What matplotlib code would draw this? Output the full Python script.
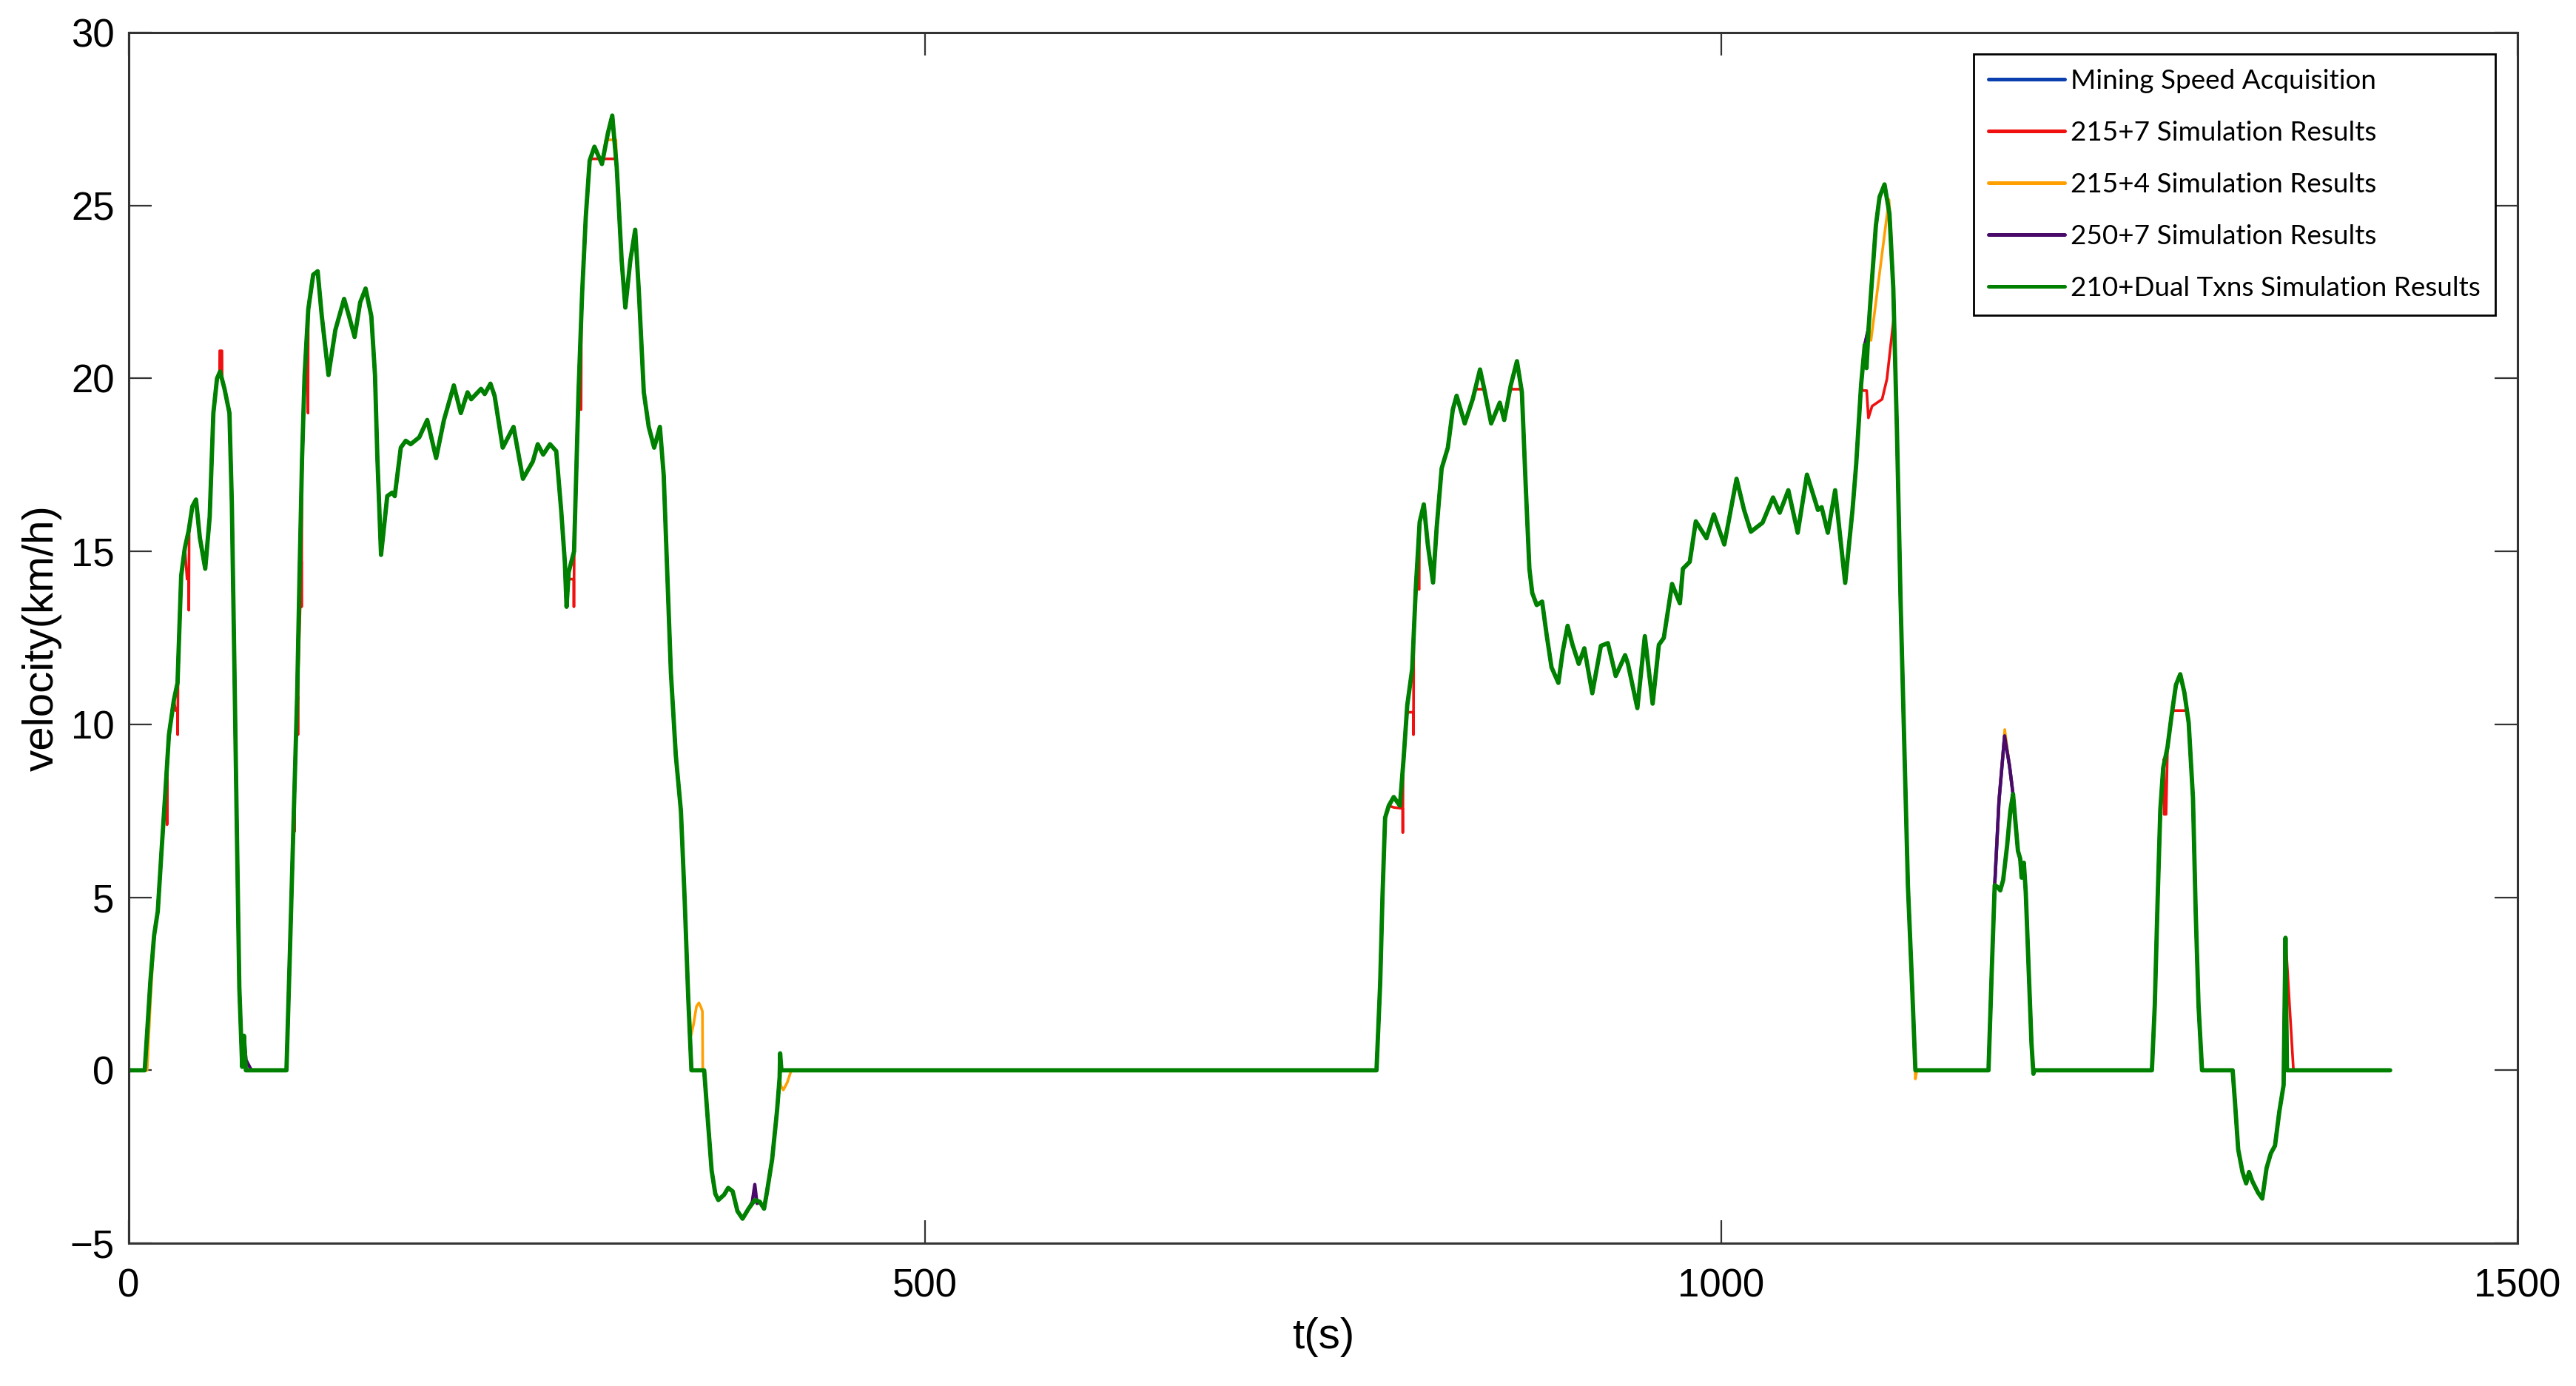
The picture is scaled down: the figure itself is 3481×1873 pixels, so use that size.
import numpy as np
import matplotlib
matplotlib.use('Agg')
import matplotlib.pyplot as plt

t_meas = [
    0, 10, 13.6, 15.9, 18.2, 20.5, 22.9, 25.2, 28.3, 30.6, 32.9, 35.2, 37.6, 39.9, 42.2, 44.6,
    48.0, 50.8, 53.1, 55.4, 57.3, 60.1, 63.2, 64.7, 66.3, 67.8, 69.4, 71.2, 72.3, 73.5,
    99, 101.1, 103.4, 105.7, 107.3, 108.8, 110.4, 112.7, 115.8, 118.6, 121.2, 125.4, 129.7,
    135.2, 138.3, 141.8, 145.3, 148.7, 152.3, 154.6, 156.1, 158.4, 160.0, 162.3, 165.4, 167.0,
    170.8, 173.9, 177.0, 182.4, 187.4, 193.0, 197.9, 204.1, 208.5, 212.7, 215.0, 221.2, 223.5,
    227.1, 229.7, 234.8, 241.6, 247.5, 253.7, 256.8, 260.2, 264.5, 268.4, 271.5, 273.8, 274.9,
    276.2, 279.6, 282.4, 284.7, 287.0, 289.4, 292.4, 297.1, 300.9, 303.6, 306.4, 309.5, 311.8,
    314.9, 318.0, 320.3, 323.4, 326.5, 329.9, 333.5, 335.9, 338.1, 340.4, 343.5, 346.7, 349.0,
    351.3, 353.3, 361.3, 363.7, 366.0, 368.3, 370.2, 373.8, 376.4, 379.2, 382.2, 385.4, 389.2,
    393.1, 396.2, 398.9, 400.8, 404.0, 407.1, 408.7, 409.0, 409.8,
    783.5, 785.8, 787.3, 788.9, 791.2, 794.3, 798.2, 800.5, 802.8, 805.9, 808.2, 810.6, 813.2,
    815.7, 819.0, 821.3, 824.4, 828.3, 831.4, 833.8, 838.9, 843.9, 848.5, 851.6, 855.5, 860.9,
    863.7, 867.8, 871.7, 874.8, 877.1, 879.5, 881.3, 884.1, 887.5, 890.3, 893.4, 897.7, 900.4,
    903.5, 906.6, 910.5, 914.0, 919.0, 924.4, 928.8, 933.7, 939.6, 941.4, 947.3, 952.0, 956.9,
    960.8, 963.9, 969.1, 974.0, 975.9, 980.2, 984.0, 990.7, 995.3, 1001.9, 1009.6, 1014.3,
    1018.6, 1025.9, 1032.5, 1036.7, 1042.1, 1048.0, 1053.8, 1060.7, 1063.0, 1066.9, 1071.5,
    1077.8, 1082.4, 1084.7, 1087.8, 1090.1, 1092.5, 1094.0, 1097.1, 1099.4, 1102.5, 1105.6,
    1108.0, 1110.3, 1112.6, 1114.9, 1117.2, 1119.6, 1121.9,
    1167.8, 1169.9, 1171.7, 1174.4, 1177.9, 1181.0, 1183.2, 1186.3, 1187.7, 1188.6, 1190.0,
    1191.2, 1193.0, 1194.8, 1196.0, 1196.6,
    1270.4, 1272.2, 1274.0, 1275.7, 1277.5, 1280.2, 1282.8, 1285.5, 1288.2, 1290.8, 1293.5,
    1296.2, 1297.9, 1299.7, 1301.9,
    1321.1, 1322.5, 1324.6, 1327.3, 1329.6, 1331.4, 1333.5, 1337.1, 1339.7, 1342.4, 1345.1,
    1347.7, 1350.4, 1353.1, 1354.3, 1355.2, 1420,
]
v_meas = [
    0, 0, 2.6, 3.9, 4.6, 6.3, 8.0, 9.7, 10.7, 11.2, 14.3, 15.1, 15.6, 16.3, 16.5, 15.4,
    14.5, 16.0, 19.0, 20.0, 20.2, 19.7, 19.0, 16.4, 11.7, 7.1, 2.4, 0.1, 1.0, 0,
    0, 3.3, 7.1, 10.8, 14.5, 17.7, 20.1, 22.0, 23.0, 23.1, 21.8, 20.1, 21.4,
    22.3, 21.8, 21.2, 22.2, 22.6, 21.8, 20.1, 17.7, 14.9, 15.6, 16.6, 16.7, 16.6,
    18.0, 18.2, 18.1, 18.3, 18.8, 17.7, 18.8, 19.8, 19.0, 19.6, 19.4, 19.7, 19.55,
    19.85, 19.5, 18.0, 18.6, 17.1, 17.6, 18.1, 17.8, 18.1, 17.9, 16.2, 14.7, 13.4,
    14.4, 15.0, 19.6, 22.5, 24.7, 26.3, 26.7, 26.2, 27.1, 27.6, 26.1, 23.4, 22.05,
    23.4, 24.3, 22.5, 19.6, 18.6, 18.0, 18.6, 17.2, 14.4, 11.5, 9.1, 7.5, 5.0,
    2.1, 0, 0, -1.5, -2.9, -3.57, -3.75, -3.6, -3.4, -3.5, -4.07, -4.29, -4.0,
    -3.75, -3.8, -4.0, -3.5, -2.57, -1.15, -0.2, 0.49, 0,
    0, 2.5, 5.1, 7.3, 7.65, 7.9, 7.65, 9.0, 10.55, 11.6, 13.96, 15.85, 16.36,
    15.2, 14.1, 15.7, 17.4, 18.0, 19.1, 19.5, 18.7, 19.4, 20.26, 19.6, 18.7, 19.3,
    18.8, 19.8, 20.5, 19.6, 17.0, 14.5, 13.8, 13.45, 13.55, 12.6, 11.65, 11.2, 12.1,
    12.85, 12.3, 11.75, 12.2, 10.9, 12.27, 12.35, 11.4, 12.0, 11.75, 10.47, 12.55, 10.6,
    12.3, 12.5, 14.06, 13.5, 14.5, 14.7, 15.87, 15.38, 16.07, 15.2, 17.1, 16.2,
    15.57, 15.83, 16.56, 16.12, 16.77, 15.54, 17.22, 16.2, 16.28, 15.54, 16.77,
    14.09, 16.2, 17.51, 19.82, 20.97, 21.46, 22.45, 24.43, 25.25, 25.61, 24.76,
    22.62, 18.5, 13.56, 9.45, 5.33, 2.7, 0,
    0, 2.95, 5.35, 7.8, 9.67, 8.8, 7.98, 6.34, 6.12, 5.57, 6.0,
    5.14, 2.95, 0.77, -0.1, 0,
    0, 1.86, 4.92, 7.54, 8.74, 9.34, 10.27, 11.14, 11.45, 10.92, 10.05,
    7.87, 4.59, 1.86, 0,
    0, -0.87, -2.29, -2.94, -3.27, -2.94, -3.21, -3.54, -3.71, -2.83, -2.4,
    -2.18, -1.2, -0.43, 3.83, 0, 0,
]

# stretches where a simulation departs from the measured curve, as (t, v) points
red_segments = [
    [(22.9, 8.0), (23.9, 8.4), (24.0, 7.1), (24.2, 8.7), (25.2, 9.7)],
    [(28.3, 10.7), (29.4, 10.4), (30.6, 10.4), (30.7, 9.7), (30.9, 11.3), (32.9, 14.3)],
    [(35.2, 15.1), (36.6, 14.2), (37.6, 14.2), (37.7, 13.3), (37.9, 15.7), (39.9, 16.3)],
    [(55.4, 20.0), (57.0, 20.1), (57.1, 20.8), (58.5, 20.8), (58.6, 20.0), (60.1, 19.7)],
    [(101.1, 3.3), (103.9, 7.6), (104.0, 6.9), (104.2, 8.5), (106.1, 10.8), (106.2, 9.7),
     (106.4, 11.5), (108.4, 14.7), (108.5, 13.4), (108.7, 17.0), (110.4, 20.1), (112.4, 20.9),
     (112.5, 19.0), (112.7, 22.0)],
    [(271.5, 16.2), (273.8, 14.7), (274.9, 13.4), (275.1, 14.2), (279.4, 14.2), (279.5, 13.4),
     (279.7, 15.0), (282.4, 19.6), (283.9, 21.4), (284.0, 19.1), (284.2, 22.0), (287.0, 24.7)],
    [(287.0, 24.7), (289.4, 26.3), (290.8, 26.35), (305.8, 26.35), (306.4, 26.1)],
    [(791.2, 7.65), (794.3, 7.6), (799.9, 7.57), (800.0, 6.87), (800.2, 8.9), (802.8, 10.35),
     (806.6, 10.35), (806.7, 9.7), (806.9, 12.5), (808.2, 13.96), (810.3, 13.9), (810.4, 15.7),
     (810.6, 15.85)],
    [(843.9, 19.4), (845.1, 19.69), (851.2, 19.69), (851.6, 19.6)],
    [(867.8, 19.8), (868.5, 19.69), (874.6, 19.69), (874.8, 19.3)],
    [(1087.8, 19.82), (1088.5, 19.65), (1091.3, 19.65), (1092.4, 18.86), (1094.7, 19.2),
     (1101.0, 19.4), (1104.0, 19.98), (1106.4, 20.97), (1108.4, 21.79), (1109.0, 21.0)],
    [(1277.5, 8.74), (1278.0, 9.0), (1278.1, 7.4), (1279.3, 7.4), (1280.2, 9.34),
     (1282.8, 10.27), (1284.1, 10.4), (1292.6, 10.4), (1293.5, 10.05)],
    [(1354.3, 3.83), (1359.3, 0.0)],
]
orange_segments = [
    [(10, 0), (11.5, 0), (13.6, 2.0)],
    [(297.1, 26.2), (299.5, 26.9), (305.9, 26.9), (306.4, 26.1)],
    [(351.3, 2.1), (353.0, 1.0), (354.5, 1.3), (356.5, 1.85), (358.0, 1.95), (359.5, 1.8),
     (360.2, 1.7), (360.4, 0.0), (361.3, 0.0)],
    [(408.7, -0.2), (409.5, -0.45), (411.0, -0.57), (413.5, -0.35), (416.0, 0.0)],
    [(1092.5, 21.46), (1094.0, 21.1), (1105.3, 25.17), (1106.5, 24.3)],
    [(1119.6, 2.7), (1121.9, -0.25), (1122.8, 0.0)],
    [(1174.4, 7.8), (1178.0, 9.85), (1181.0, 8.8)],
]
purple_segments = [
    [(71.2, 0.1), (72.3, 1.0), (73.6, 0.3), (77.0, 0.0), (78.0, 0.0)],
    [(391.5, -3.8), (393.1, -3.3), (394.5, -3.85)],
]
green_segments = [
    [(1090.1, 20.97), (1091.2, 20.3), (1092.5, 21.46)],
    [(1171.7, 5.35), (1173.5, 5.3), (1175.2, 5.2), (1177.0, 5.5), (1179.5, 6.5),
     (1181.5, 7.5), (1183.2, 7.98)],
]

labels = [
    'Mining Speed Acquisition',
    '215+7 Simulation Results',
    '215+4 Simulation Results',
    '250+7 Simulation Results',
    '210+Dual Txns Simulation Results',
]
colors = ['#0a3fb0', '#f01010', '#ffa000', '#4a0a6a', '#008000']
widths = [1.6, 1.3, 1.3, 1.6, 2.1]


def patched(t, v, segments):
    t = np.asarray(t, float)
    v = np.asarray(v, float)
    for seg in segments:
        st, sv = np.array(seg, float).T
        keep = (t < st[0]) | (t > st[-1])
        t = np.concatenate([t[keep], st])
        v = np.concatenate([v[keep], sv])
        order = np.argsort(t, kind='stable')
        t, v = t[order], v[order]
    return t, v


series = [
    (np.array(t_meas, float), np.array(v_meas, float)),
    patched(t_meas, v_meas, red_segments),
    patched(t_meas, v_meas, orange_segments),
    patched(t_meas, v_meas, purple_segments),
    patched(t_meas, v_meas, green_segments),
]

plt.rcParams['font.family'] = ['Liberation Sans', 'DejaVu Sans']

fig = plt.figure(figsize=(17.405, 9.365), dpi=200)
ax = fig.add_axes([0.05, 0.103, 0.9273, 0.8735])

for (t, v), lab, c, w in zip(series, labels, colors, widths):
    ax.plot(t, v, color=c, linewidth=w, label=lab,
            solid_joinstyle='round', solid_capstyle='round')

ax.set_xlim(0, 1500)
ax.set_ylim(-5, 30)
ax.set_xticks([0, 500, 1000, 1500])
ax.set_yticks(np.arange(-5, 31, 5))
ax.tick_params(direction='in', length=11, width=0.8, color='#333333',
               top=True, right=True, labelsize=19)
ax.tick_params(axis='x', pad=12)
ax.tick_params(axis='y', pad=7)
for s in ax.spines.values():
    s.set_linewidth(1.1)
    s.set_color('#333333')

ax.set_xlabel('t(s)', fontsize=21, labelpad=6)
ax.set_ylabel('velocity(km/h)', fontsize=21, labelpad=4)

leg = ax.legend(loc='upper right', bbox_to_anchor=(1 - 30 / 3228, 1 - 29 / 1636),
                borderaxespad=0, fancybox=False, framealpha=1, edgecolor='black',
                prop={'family': 'Lato', 'size': 13.3},
                handlelength=2.8, handletextpad=0.2, labelspacing=1.0,
                borderpad=0.55)
leg.get_frame().set_linewidth(1.0)
for line in leg.get_lines():
    line.set_linewidth(1.8)

fig.savefig('out.png', dpi=200)
